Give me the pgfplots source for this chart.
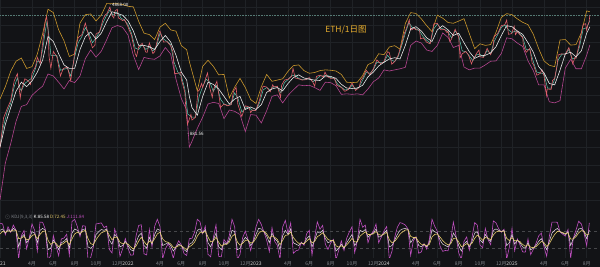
\documentclass[border=0pt]{standalone}
\usepackage{pgfplots}
\pgfplotsset{compat=1.18}
\usepackage{fontspec}
\newfontfamily\cjk{Noto Sans CJK SC}
\definecolor{bg}{HTML}{121316}
\definecolor{gridc}{HTML}{1F2226}
\definecolor{upc}{HTML}{C9962C}
\definecolor{loc}{HTML}{B4458F}
\definecolor{midc}{HTML}{E8E8E8}
\definecolor{pricec}{HTML}{E0606A}
\definecolor{mac}{HTML}{5CC8B0}
\definecolor{kc}{HTML}{E8D8E8}
\definecolor{dc}{HTML}{E3C86A}
\definecolor{jc}{HTML}{C04FC0}
\definecolor{tickc}{HTML}{80848A}
\definecolor{yrc}{HTML}{D0D0D0}
\definecolor{titlec}{HTML}{E8AE2E}
\definecolor{dashc}{HTML}{557A74}

\pgfplotstableread{
m p
0.0 730
0.33 1090
0.67 1230
1.0 1370
1.33 1780
1.63 1960
1.9 1420
2.0 1570
2.33 1830
2.67 1780
2.87 1700
3.0 1970
3.33 2150
3.5 2430
3.77 2230
4.0 2950
4.23 3900
4.37 4170
4.5 3600
4.6 2450
4.77 2100
5.0 2630
5.33 2450
5.67 1900
5.9 2080
6.0 2110
6.33 2130
6.63 1790
6.9 2300
7.0 2610
7.33 3160
7.67 3280
8.0 3830
8.2 3430
8.33 3210
8.67 2760
8.9 2850
9.0 3310
9.33 3410
9.67 4050
9.9 4290
10.0 4320
10.3 4730
10.5 4240
10.67 4100
10.8 4520
11.0 4590
11.1 4100
11.33 4020
11.5 3960
11.67 4010
11.97 3680
12.33 3240
12.67 2560
12.8 2460
13.0 2790
13.33 2930
13.67 2610
13.8 2600
14.0 2950
14.33 2560
14.5 2620
14.67 2900
14.93 3400
15.0 3450
15.33 2980
15.67 2990
16.0 2830
16.2 2640
16.37 1960
16.67 1970
16.95 1990
17.0 1820
17.33 1530
17.43 1210
17.57 1000
17.7 1050
17.9 1140
18.0 1060
18.33 1100
18.57 1570
18.67 1570
18.9 1720
19.0 1630
19.33 1880
19.45 1980
19.67 1620
19.9 1430
20.0 1580
20.33 1770
20.6 1370
20.67 1250
21.0 1310
21.33 1280
21.67 1300
21.9 1560
22.0 1580
22.13 1640
22.3 1300
22.33 1290
22.67 1110
23.0 1280
23.33 1260
23.5 1170
23.67 1210
23.97 1200
24.33 1380
24.5 1550
24.67 1660
25.0 1640
25.33 1540
25.57 1690
25.67 1640
26.0 1660
26.3 1430
26.4 1680
26.67 1800
27.0 1820
27.33 1890
27.47 2100
27.67 1850
28.0 1830
28.33 1800
28.67 1810
29.0 1860
29.33 1750
29.5 1660
29.67 1890
30.0 1920
30.33 1880
30.47 2000
30.67 1890
31.0 1840
31.33 1850
31.57 1680
31.67 1670
32.0 1630
32.33 1550
32.67 1590
33.0 1730
33.33 1570
33.67 1630
33.83 1800
34.0 1850
34.33 2050
34.67 1930
35.0 2090
35.33 2350
35.67 2240
35.97 2280
36.33 2620
36.5 2590
36.73 2220
37.0 2300
37.33 2500
37.67 2930
37.93 3380
38.0 3430
38.37 4000
38.5 3500
38.63 3510
38.8 3600
39.0 3500
39.33 3500
39.43 3100
39.67 3150
40.0 2970
40.33 2910
40.67 3790
41.0 3810
41.33 3500
41.67 3520
41.9 3380
42.0 3440
42.17 3000
42.33 3100
42.67 3530
42.9 3270
43.0 3200
43.13 2420
43.33 2550
43.67 2630
43.9 2520
44.0 2430
44.2 2230
44.33 2340
44.67 2560
44.9 2680
45.0 2450
45.33 2430
45.67 2740
45.9 2570
46.0 2520
46.2 2720
46.33 3200
46.67 3350
47.0 3700
47.33 3750
47.5 3990
47.67 3300
47.97 3330
48.2 3680
48.33 3280
48.5 3440
48.67 3320
49.0 3160
49.07 2850
49.33 2600
49.67 2740
49.9 2240
50.0 2220
50.33 1920
50.67 1970
50.8 2070
51.0 1910
51.23 1470
51.3 1600
51.67 1590
51.8 1790
52.0 1840
52.23 2200
52.33 2510
52.67 2550
53.0 2530
53.33 2770
53.5 2550
53.7 2230
53.9 2430
54.0 2400
54.33 2950
54.5 3370
54.67 3760
54.9 3800
55.0 3480
55.1 3720
55.23 3900
55.3 4260
}\pricetab

\pgfplotstableread{
m ma
0.0 760
0.33 980
0.67 1180
1.0 1320
1.33 1650
1.63 1850
1.9 1600
2.0 1560
2.33 1720
2.67 1790
3.0 1850
3.33 2100
3.5 2300
3.77 2300
4.0 2700
4.23 3400
4.4 3900
4.6 3200
4.77 2500
5.0 2500
5.33 2500
5.67 2050
6.0 2080
6.33 2100
6.63 1900
7.0 2450
7.33 2950
7.67 3200
8.0 3600
8.33 3350
8.67 2950
9.0 3150
9.33 3400
9.67 3850
10.0 4250
10.3 4550
10.6 4250
11.0 4450
11.33 4100
11.67 3980
12.0 3750
12.33 3350
12.67 2750
13.0 2700
13.33 2880
13.67 2700
14.0 2800
14.33 2650
14.67 2800
15.0 3350
15.33 3100
15.67 3000
16.0 2880
16.3 2300
16.67 2000
17.0 1900
17.33 1600
17.6 1150
18.0 1100
18.33 1100
18.67 1450
19.0 1650
19.33 1820
19.67 1750
20.0 1550
20.33 1680
20.67 1400
21.0 1310
21.33 1290
21.67 1300
22.0 1520
22.33 1400
22.67 1180
23.0 1240
23.33 1260
23.67 1200
24.0 1210
24.33 1330
24.67 1580
25.0 1630
25.33 1580
25.67 1650
26.0 1640
26.33 1520
26.67 1740
27.0 1810
27.33 1900
27.67 1930
28.0 1840
28.33 1810
28.67 1810
29.0 1840
29.33 1760
29.67 1820
30.0 1900
30.33 1900
30.67 1920
31.0 1860
31.33 1840
31.67 1700
32.0 1640
32.33 1580
32.67 1590
33.0 1680
33.33 1600
33.67 1640
34.0 1800
34.33 1990
34.67 1970
35.0 2060
35.33 2280
35.67 2270
36.0 2270
36.33 2500
36.67 2350
37.0 2300
37.33 2450
37.67 2850
38.0 3350
38.33 3850
38.67 3600
39.0 3550
39.33 3450
39.67 3200
40.0 3050
40.33 2950
40.67 3550
41.0 3780
41.33 3580
41.67 3520
42.0 3420
42.33 3150
42.67 3450
43.0 3250
43.33 2650
43.67 2620
44.0 2480
44.33 2330
44.67 2520
45.0 2530
45.33 2450
45.67 2660
46.0 2560
46.33 3000
46.67 3300
47.0 3620
47.33 3730
47.67 3500
48.0 3380
48.33 3450
48.67 3350
49.0 3200
49.33 2700
49.67 2700
50.0 2300
50.33 2000
50.67 1980
51.0 1950
51.33 1620
51.67 1620
52.0 1820
52.33 2350
52.67 2530
53.0 2550
53.33 2700
53.67 2380
54.0 2420
54.33 2800
54.67 3550
55.0 3600
55.3 3950
}\matab

\pgfplotstableread{
m mid up lo
0.0 740 1400 368
0.5 1000 1650 600
1.0 1250 2020 774
1.5 1550 2310 1040
2.0 1750 2410 1270
2.5 1650 2100 1300
3.0 1780 2150 1470
3.5 2000 2540 1570
4.0 2350 3330 1660
4.5 3200 4600 1950
5.0 3000 4400 1900
5.5 2550 3500 1750
6.0 2200 3030 1600
6.5 2100 2460 1790
7.0 2100 2540 1740
7.5 2700 3830 1900
8.0 3200 4280 2390
8.5 3400 4320 2680
9.0 3100 3940 2440
9.5 3350 4260 2640
10.0 3900 4960 3070
10.5 4450 4950 3600
11.0 4350 4950 3710
11.5 4250 4900 3620
12.0 3950 4780 3270
12.5 3450 4750 2500
13.0 2850 3920 2070
13.5 2850 3350 2430
14.0 2800 3290 2390
14.5 2700 3080 2370
15.0 3000 3630 2480
15.5 3250 3820 2770
16.0 2980 3500 2540
16.5 2500 3440 1820
17.0 2000 2840 1410
17.5 1800 2690 1210
17.75 1450 2300 740
18.0 1250 2020 800
18.5 1130 1560 950
19.0 1450 2160 1100
19.5 1750 2340 1310
20.0 1700 2160 1340
20.5 1600 1930 1320
21.0 1450 1940 1080
21.5 1310 1420 1210
22.0 1400 1640 1190
22.5 1450 1840 1140
23.0 1220 1630 910
23.5 1260 1390 1140
24.0 1220 1320 1130
24.5 1300 1650 1020
25.0 1530 1940 1200
25.5 1600 1770 1450
26.0 1630 1800 1480
26.5 1560 1830 1330
27.0 1720 2020 1470
27.5 1860 2180 1580
28.0 1930 2200 1690
28.5 1850 2040 1670
29.0 1820 1970 1680
29.5 1800 1990 1630
30.0 1790 2040 1570
30.5 1900 2060 1750
31.0 1890 2050 1740
31.5 1840 2030 1670
32.0 1700 1940 1490
32.5 1620 1750 1500
33.0 1610 1740 1490
33.5 1620 1750 1500
34.0 1680 1910 1480
34.5 1880 2210 1600
35.0 2000 2280 1760
35.5 2170 2550 1850
36.0 2280 2520 2060
36.5 2380 2790 2030
37.0 2420 2840 2060
37.5 2380 2710 2090
38.0 2850 3810 2130
38.5 3550 4400 2850
39.0 3650 4350 3020
39.5 3450 4050 2940
40.0 3150 3700 2680
40.5 3000 3420 2630
41.0 3500 4250 2850
41.5 3700 4090 3360
42.0 3500 3860 3170
42.5 3250 3820 2770
43.0 3350 3930 2850
43.5 2950 4060 2140
44.0 2620 3330 2060
44.5 2400 2730 2110
45.0 2480 2910 2110
45.5 2500 2850 2200
46.0 2580 2880 2310
46.5 2800 3390 2320
47.0 3250 4130 2560
47.5 3700 4340 3150
48.0 3650 4280 3110
48.5 3450 4050 2940
49.0 3300 3870 2810
49.5 2950 3750 2320
50.0 2600 3300 2040
50.5 2150 2730 1690
51.0 1980 2320 1690
51.5 1720 2190 1350
52.0 1690 2150 1330
52.5 2050 3060 1370
53.0 2550 3080 2110
53.5 2600 2860 2370
54.0 2450 2880 2090
54.5 2650 3370 2090
55.0 3350 4500 2500
55.3 3650 4450 2870
}\bolltab

\pgfplotstableread{
m K D J
0.00 85 72 111
0.25 90 81 108
0.50 75 78 69
0.75 88 83 98
1.00 80 81 78
1.25 92 86 104
1.50 85 85 85
1.75 25 55 -20
2.00 60 57 66
2.25 70 63 84
2.50 40 51 18
2.75 55 53 59
3.00 80 66 108
3.25 75 70 85
3.50 40 55 10
3.75 85 70 115
4.00 92 81 114
4.25 85 83 89
4.50 15 49 -20
4.75 20 34 -8
5.00 50 42 66
5.25 35 38 29
5.50 15 26 -7
5.75 40 33 54
6.00 45 39 57
6.25 55 47 71
6.50 20 33 -6
6.75 75 54 117
7.00 90 72 125
7.25 85 78 99
7.50 70 74 62
7.75 88 81 102
8.00 90 85 100
8.25 25 55 -20
8.50 20 37 -14
8.75 30 33 24
9.00 70 51 108
9.25 80 65 110
9.50 88 76 112
9.75 85 80 95
10.00 90 85 100
10.25 50 67 16
10.50 35 51 3
10.75 70 60 90
11.00 60 60 60
11.25 25 42 -9
11.50 30 36 18
11.75 45 40 55
12.00 30 35 20
12.25 15 25 -5
12.50 10 17 -4
12.75 40 28 64
13.00 65 46 103
13.25 75 60 105
13.50 30 45 0
13.75 20 32 -4
14.00 60 46 88
14.25 35 40 25
14.50 70 55 100
14.75 90 72 125
15.00 85 78 99
15.25 30 54 -18
15.50 35 44 17
15.75 40 42 36
16.00 30 36 18
16.25 10 23 -16
16.50 25 24 27
16.75 35 29 47
17.00 30 29 32
17.25 15 22 1
17.50 8 15 -6
17.75 35 25 55
18.00 40 32 56
18.25 55 43 79
18.50 85 64 125
18.75 90 77 116
19.00 75 76 73
19.25 88 82 100
19.50 40 61 -2
19.75 25 43 -11
20.00 50 46 58
20.25 75 60 105
20.50 25 42 -9
20.75 15 28 -11
21.00 40 34 52
21.25 35 34 37
21.50 50 42 66
21.75 85 63 125
22.00 80 71 98
22.25 15 43 -20
22.50 20 31 -2
22.75 45 38 59
23.00 60 49 82
23.25 50 49 52
23.50 30 39 12
23.75 45 42 51
24.00 70 56 98
24.25 92 74 125
24.50 90 82 106
24.75 80 81 78
25.00 65 73 49
25.25 40 56 8
25.50 75 65 95
25.75 55 60 45
26.00 45 52 31
26.25 15 33 -20
26.50 65 49 97
26.75 85 67 121
27.00 70 68 74
27.25 90 79 112
27.50 40 59 2
27.75 35 47 11
28.00 30 38 14
28.25 40 39 42
28.50 35 37 31
28.75 55 46 73
29.00 65 55 85
29.25 25 40 -5
29.50 50 45 60
29.75 80 62 116
30.00 75 68 89
30.25 85 76 103
30.50 55 65 35
30.75 40 52 16
31.00 45 48 39
31.25 50 49 52
31.50 10 29 -20
31.75 20 24 12
32.00 35 29 47
32.25 20 24 12
32.50 40 32 56
32.75 55 43 79
33.00 70 56 98
33.25 30 43 4
33.50 45 44 47
33.75 85 64 125
34.00 80 72 96
34.25 88 80 104
34.50 60 70 40
34.75 70 70 70
35.00 75 72 81
35.25 90 81 108
35.50 60 70 40
35.75 65 67 61
36.00 75 71 83
36.25 85 78 99
36.50 25 51 -20
36.75 30 40 10
37.00 50 45 60
37.25 70 57 96
37.50 85 71 113
37.75 90 80 110
38.00 92 86 104
38.25 88 87 90
38.50 40 63 -6
38.75 55 59 47
39.00 60 59 62
39.25 30 44 2
39.50 25 34 7
39.75 35 34 37
40.00 25 29 17
40.25 40 34 52
40.50 88 61 125
40.75 80 70 100
41.00 75 72 81
41.25 50 61 28
41.50 35 48 9
41.75 30 39 12
42.00 25 32 11
42.25 40 36 48
42.50 75 55 115
42.75 60 57 66
43.00 30 43 4
43.25 10 26 -20
43.50 35 30 45
43.75 45 37 61
44.00 25 31 13
44.25 45 38 59
44.50 75 56 113
44.75 80 68 104
45.00 50 59 32
45.25 40 49 22
45.50 70 59 92
45.75 55 57 51
46.00 45 51 33
46.25 85 68 119
46.50 90 79 112
46.75 85 82 91
47.00 80 81 78
47.25 85 83 89
47.50 30 56 -20
47.75 40 48 24
48.00 70 59 92
48.25 35 47 11
48.50 50 48 54
48.75 40 44 32
49.00 25 34 7
49.25 20 27 6
49.50 40 33 54
49.75 15 24 -3
50.00 20 22 16
50.25 30 26 38
50.50 45 35 65
50.75 55 45 75
51.00 35 40 25
51.25 15 27 -9
51.50 45 36 63
51.75 75 55 115
52.00 85 70 115
52.25 92 81 114
52.50 80 80 80
52.75 75 77 71
53.00 70 73 64
53.25 80 76 88
53.50 30 53 -16
53.75 55 54 57
54.00 70 62 86
54.25 90 76 118
54.50 92 84 108
54.75 80 82 76
55.00 55 68 29
55.25 85.58 72.45 111.84
}\kdjtab

\pgfplotsset{
  chartbase/.style={
    scale only axis, width=600pt, xmin=0, xmax=56.25,
    axis line style={draw=none}, major tick length=0pt,
    xtick={0,3,5,7,9,11,12,15,17,19,21,23,24,27,29,31,33,35,36,39,41,43,45,47,48,51,53,55},
    x grid style={gridc, line width=0.5pt},
    xmajorgrids,
  }
}

\begin{document}
\begin{tikzpicture}
\fill[bg] (0pt,0pt) rectangle (600pt,267pt);
\begin{axis}[chartbase, at={(0pt,62pt)}, anchor=south west, height=205pt,
  ymode=log, ymin=344, ymax=5200,
  xticklabels={}, yticklabels={},
  ytick={367.8,463.7,584.7,737.3,929.6,1172,1478,1864,2350,2963,3736,4711},
  ymajorgrids, y grid style={gridc, line width=0.5pt}]
\addplot[dashc, densely dotted, line width=0.6pt] coordinates {(0,4268) (56.25,4268)};
\addplot[upc, line width=0.6pt] table[x=m, y=up] {\bolltab};
\addplot[loc, line width=0.6pt] table[x=m, y=lo] {\bolltab};
\addplot[mac, line width=0.5pt] table[x=m, y=ma] {\matab};
\addplot[pricec, line width=0.6pt] table[x=m, y=p] {\pricetab};
\addplot[midc, line width=0.6pt] table[x=m, y=mid] {\bolltab};
\node[anchor=west, text=white, font=\cjk\fontsize{4.5}{5}\selectfont, inner sep=0pt] at (axis cs:10.25,4868) {- 4868.00};
\node[anchor=west, text=white, font=\cjk\fontsize{4.5}{5}\selectfont, inner sep=0pt] at (axis cs:17.55,881.56) {- 881.56};
\node[text=titlec, font=\cjk\fontsize{8.5}{9}\selectfont] at (axis cs:32.44,3517) {ETH/1日图};
\end{axis}
\begin{axis}[chartbase, at={(0pt,9pt)}, anchor=south west, height=53pt,
  ymin=-15.2, ymax=176.8,
  ytick={20,80}, yticklabels={}, ymajorgrids,
  y grid style={gridc!60!gray, dashed, line width=0.5pt},
  xticklabels={\textcolor{yrc}{2021},4月,6月,8月,10月,12月,\textcolor{yrc}{2022},4月,6月,8月,10月,12月,\textcolor{yrc}{2023},4月,6月,8月,10月,12月,\textcolor{yrc}{2024},4月,6月,8月,10月,12月,\textcolor{yrc}{2025},4月,6月,8月},
  xticklabel style={font=\cjk\fontsize{5}{5}\selectfont, text=tickc, yshift=0pt}]
\addplot[jc, line width=0.6pt] table[x=m, y=J] {\kdjtab};
\addplot[kc, line width=0.5pt] table[x=m, y=K] {\kdjtab};
\addplot[dc, line width=0.6pt] table[x=m, y=D] {\kdjtab};
\node[anchor=west, inner sep=0pt, font=\cjk\fontsize{4.5}{5}\selectfont] at (rel axis cs:0.008,0.78) {\textcolor{tickc}{$\odot$ KDJ(9,3,3)}\ \textcolor{white}{K:85.58}\ \textcolor{dc}{D:72.45}\ \textcolor{jc}{J:111.84}};
\end{axis}
\pgfresetboundingbox
\useasboundingbox (0pt,0pt) rectangle (600pt,267pt);
\end{tikzpicture}
\end{document}
